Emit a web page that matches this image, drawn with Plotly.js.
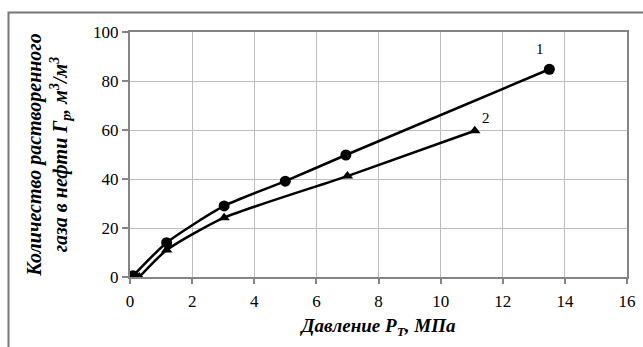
<!DOCTYPE html>
<html>
<head>
<meta charset="utf-8">
<script src="https://cdn.plot.ly/plotly-3.0.1.min.js"></script>
<style>html,body{margin:0;padding:0;background:#fff;}#chart{width:643px;height:347px;}</style>
</head>
<body>
<div id="chart"></div>
<script>
// Curve 1 (circles)
const x1 = [0.1, 1.18, 3.03, 5.0, 6.95, 13.5];
const y1 = [0.5, 14.0, 29.0, 39.1, 49.8, 84.8];
// Curve 2 (triangles)
const x2 = [0.3, 1.18, 3.03, 7.0, 11.1];
const y2 = [0.0, 11.0, 24.2, 41.2, 59.7];
const curveLabels = ["1", "2"];
const xTicks = [0, 2, 4, 6, 8, 10, 12, 14, 16];
const yTicks = [0, 20, 40, 60, 80, 100];

const traces = [
  {x: x1, y: y1, mode: "lines+markers", type: "scatter",
   line: {color: "#000", width: 2.5, shape: "spline", smoothing: 0.6},
   marker: {symbol: "circle", size: 11, color: "#000"}, hoverinfo: "none"},
  {x: x2, y: y2, mode: "lines+markers", type: "scatter",
   line: {color: "#000", width: 2.5, shape: "spline", smoothing: 0.6},
   marker: {symbol: "triangle-up", size: 10, color: "#000"}, hoverinfo: "none"}
];
const ml = 130, mr = 16, mt = 32, mb = 70, W = 643, H = 347;
const pw = W - ml - mr, ph = H - mt - mb;
const fx = (8.5 - ml) / pw, fy = 1 + (mt - 12.5) / ph;
const tickFont = {family: "Liberation Serif", size: 17, color: "#000000"};
const xTitleFont = {family: "Liberation Serif", size: 19, color: "#000000", weight: "bold", style: "italic"};
const yTitleFont = {family: "Liberation Serif", size: 20, color: "#000000", weight: "bold", style: "italic"};
const layout = {
  width: W, height: H,
  margin: {l: ml, r: mr, t: mt, b: mb, pad: 0},
  paper_bgcolor: "#fff", plot_bgcolor: "#fff",
  showlegend: false,
  font: {family: "Liberation Serif", color: "#000000", size: 17},
  xaxis: {
    range: [0, 16], tickmode: "array", tickvals: xTicks, ticktext: xTicks.map(String),
    showgrid: true, gridcolor: "#bdbdbd", gridwidth: 1,
    showline: true, linecolor: "#858585", linewidth: 2, mirror: true,
    ticks: "outside", ticklen: 5, tickcolor: "#858585", tickwidth: 2,
    ticklabelstandoff: 3,
    zeroline: false, fixedrange: true,
    tickfont: tickFont,
    title: {text: "Давление P<sub>T</sub>, МПа", font: xTitleFont, standoff: 8}
  },
  yaxis: {
    range: [0, 100], tickmode: "array", tickvals: yTicks, ticktext: yTicks.map(String),
    showgrid: true, gridcolor: "#bdbdbd", gridwidth: 1,
    showline: true, linecolor: "#858585", linewidth: 2, mirror: true,
    ticks: "outside", ticklen: 6, tickcolor: "#858585", tickwidth: 2,
    zeroline: false, fixedrange: true,
    tickfont: tickFont,
    title: {text: "Количество растворенного<br>газа в нефти Г<sub>р</sub>, м<sup>3</sup>/м<sup>3</sup>", font: yTitleFont, standoff: 20}
  },
  annotations: [
    {x: 13.2, y: 93, text: curveLabels[0], showarrow: false, font: {family: "Liberation Serif", size: 15, color: "#000"}},
    {x: 11.45, y: 65, text: curveLabels[1], showarrow: false, font: {family: "Liberation Serif", size: 15, color: "#000"}}
  ],
  shapes: [
    {type: "path", xref: "paper", yref: "paper",
     path: `M ${fx} -1 L ${fx} ${fy} L 1.5 ${fy}`,
     line: {color: "#777", width: 2}}
  ]
};
Plotly.newPlot("chart", traces, layout, {displayModeBar: false, staticPlot: true});
</script>
</body>
</html>
